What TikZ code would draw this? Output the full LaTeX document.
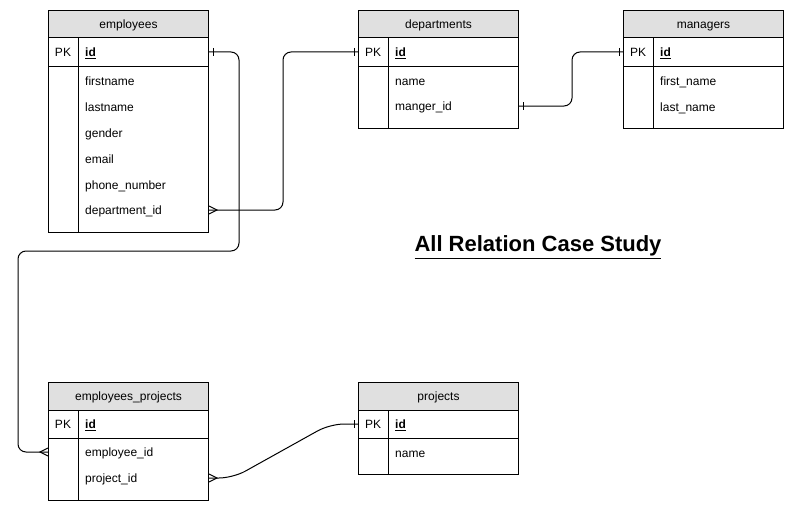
\documentclass[tikz,border=0pt]{standalone}
\usepackage{fontspec}
\setmainfont{Liberation Sans}
\usepackage{tikz}
\usetikzlibrary{positioning}

\definecolor{hdrgray}{HTML}{E0E0E0}

\tikzset{
  tbl/.style={draw, line width=1pt, minimum width=160pt, anchor=north west, inner sep=0pt},
  hdr/.style={draw, line width=1pt, fill=hdrgray, minimum width=160pt, minimum height=27pt, anchor=north, inner sep=0pt, text height=8.6pt, text depth=0pt},
  fld/.style={anchor=west, inner sep=0pt, text height=8.6pt, text depth=0pt},
  pk/.style={inner sep=0pt, text height=8.6pt, text depth=0pt},
  rel/.style={line width=1pt, rounded corners=8pt},
  endmark/.style={line width=1pt}
}

\begin{document}
\begin{tikzpicture}[x=1pt, y=-1pt, font=\fontsize{12}{14}\selectfont]
  \useasboundingbox (0,0) rectangle (794,511);

  % employees
  \node[tbl, minimum height=222pt] (emp) at (48,10) {};
  \node[hdr] (emp-h) at (emp.north) {employees};
  \draw[line width=1pt] (48,66) -- (208,66);
  \draw[line width=1pt] ([xshift=30pt]emp-h.south west) -- ([xshift=30pt]emp.south west);
  \node[pk] (emp-pk) at (63,52) {PK};
  \node[fld] (emp-id) at (85,52) {\textbf{\underline{id}}};
  \node[fld] (emp-fn) at (85,81) {firstname};
  \node[fld] (emp-ln) at (85,107) {lastname};
  \node[fld] (emp-gd) at (85,133) {gender};
  \node[fld] (emp-em) at (85,159) {email};
  \node[fld] (emp-ph) at (85,185) {phone\_number};
  \node[fld] (emp-dep) at (85,210) {department\_id};

  % departments
  \node[tbl, minimum height=118pt] (dep) at (358,10) {};
  \node[hdr] (dep-h) at (dep.north) {departments};
  \draw[line width=1pt] (358,66) -- (518,66);
  \draw[line width=1pt] ([xshift=30pt]dep-h.south west) -- ([xshift=30pt]dep.south west);
  \node[pk] (dep-pk) at (373,52) {PK};
  \node[fld] (dep-id) at (395,52) {\textbf{\underline{id}}};
  \node[fld] (dep-nm) at (395,81) {name};
  \node[fld] (dep-mgr) at (395,106) {manger\_id};

  % managers
  \node[tbl, minimum height=118pt] (mgr) at (623,10) {};
  \node[hdr] (mgr-h) at (mgr.north) {managers};
  \draw[line width=1pt] (623,66) -- (783,66);
  \draw[line width=1pt] ([xshift=30pt]mgr-h.south west) -- ([xshift=30pt]mgr.south west);
  \node[pk] (mgr-pk) at (638,52) {PK};
  \node[fld] (mgr-id) at (660,52) {\textbf{\underline{id}}};
  \node[fld] (mgr-fn) at (660,81) {first\_name};
  \node[fld] (mgr-ln) at (660,107) {last\_name};

  % employees_projects
  \node[tbl, minimum height=118pt] (ep) at (48,382) {};
  \node[hdr, minimum height=28pt] (ep-h) at (ep.north) {employees\_projects};
  \draw[line width=1pt] (48,438) -- (208,438);
  \draw[line width=1pt] ([xshift=30pt]ep-h.south west) -- ([xshift=30pt]ep.south west);
  \node[pk] (ep-pk) at (63,424) {PK};
  \node[fld] (ep-id) at (85,424) {\textbf{\underline{id}}};
  \node[fld] (ep-eid) at (85,452) {employee\_id};
  \node[fld] (ep-pid) at (85,478) {project\_id};

  % projects
  \node[tbl, minimum height=92pt] (prj) at (358,382) {};
  \node[hdr, minimum height=28pt] (prj-h) at (prj.north) {projects};
  \draw[line width=1pt] (358,438) -- (518,438);
  \draw[line width=1pt] ([xshift=30pt]prj-h.south west) -- ([xshift=30pt]prj.south west);
  \node[pk] (prj-pk) at (373,424) {PK};
  \node[fld] (prj-id) at (395,424) {\textbf{\underline{id}}};
  \node[fld] (prj-nm) at (395,453) {name};

  % title
  \node[font=\bfseries\fontsize{22}{26}\selectfont, inner sep=0pt, text height=15.8pt, text depth=0pt] (title) at (538,244) {\underline{All Relation Case Study}};

  % relations
  \draw[rel] (emp.east |- emp-id) -- ++(30,0) |- (18,251) |- (ep.west |- ep-eid);
  \draw[rel] (emp.east |- emp-dep) -| (283,52) -- (dep.west |- dep-id);
  \draw[rel] (dep.east |- dep-mgr) -| (572,52) -- (mgr.west |- mgr-id);
  \draw[rel, rounded corners=14pt] (ep.east |- ep-pid) -- ++(24,0) -- (330,424) -- (prj.west |- prj-id);

  % one marks
  \draw[endmark] ([xshift=4pt]emp.east |- emp-id) ++(0,-4) -- ++(0,8);
  \draw[endmark] ([xshift=-4pt]dep.west |- dep-id) ++(0,-4) -- ++(0,8);
  \draw[endmark] ([xshift=-4pt]mgr.west |- mgr-id) ++(0,-4) -- ++(0,8);
  \draw[endmark] ([xshift=4pt]dep.east |- dep-mgr) ++(0,-4) -- ++(0,8);
  \draw[endmark] ([xshift=-4pt]prj.west |- prj-id) ++(0,-4) -- ++(0,8);

  % many marks
  \draw[endmark] ([yshift=4pt]emp.east |- emp-dep) -- ([xshift=8pt]emp.east |- emp-dep) -- ([yshift=-4pt]emp.east |- emp-dep);
  \draw[endmark] ([yshift=4pt]ep.east |- ep-pid) -- ([xshift=8pt]ep.east |- ep-pid) -- ([yshift=-4pt]ep.east |- ep-pid);
  \draw[endmark] ([yshift=4pt]ep.west |- ep-eid) -- ([xshift=-8pt]ep.west |- ep-eid) -- ([yshift=-4pt]ep.west |- ep-eid);
\end{tikzpicture}
\end{document}
